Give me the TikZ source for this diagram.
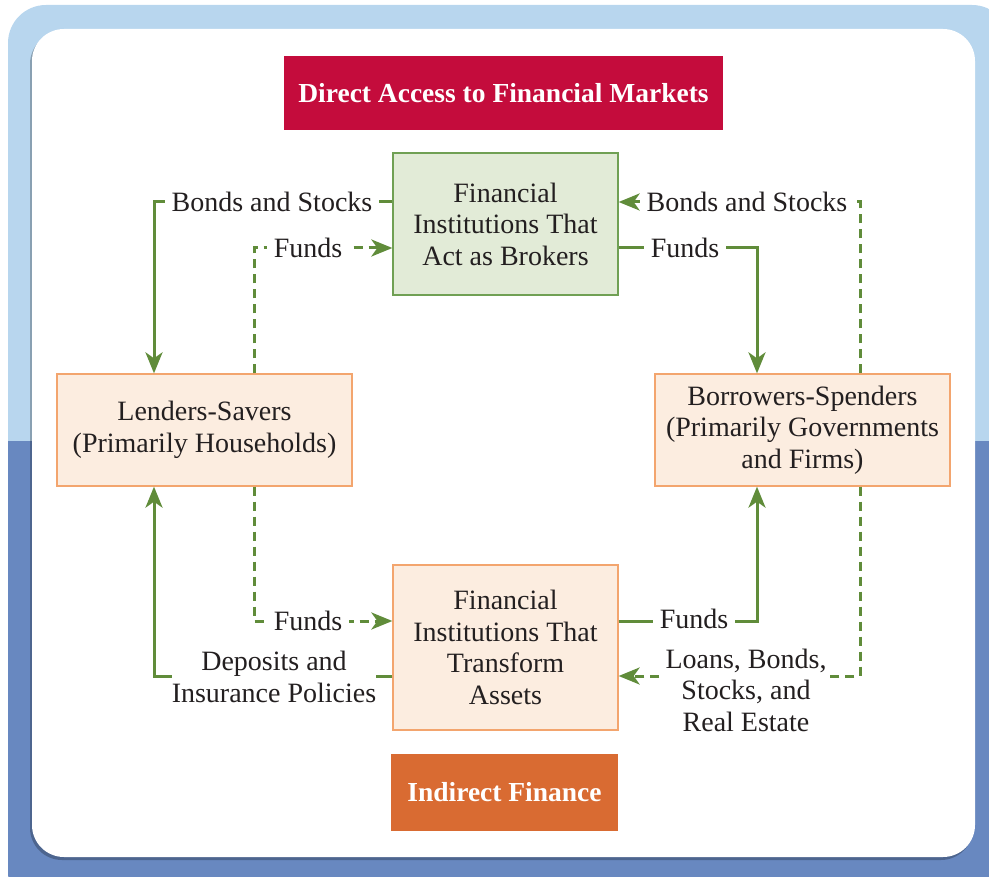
\documentclass[tikz,border=0pt]{standalone}
\usepackage{fontspec}
\setmainfont{Liberation Serif}
\usetikzlibrary{arrows.meta,shadows}
\definecolor{lightbg}{RGB}{184,214,238}
\definecolor{darkbg}{RGB}{104,136,192}
\definecolor{arrowgreen}{RGB}{96,140,58}
\definecolor{brokerfill}{RGB}{226,235,215}
\definecolor{brokerdraw}{RGB}{112,160,84}
\definecolor{peachfill}{RGB}{252,237,224}
\definecolor{peachdraw}{RGB}{243,165,110}
\definecolor{titlered}{RGB}{196,12,60}
\definecolor{titleorange}{RGB}{217,107,50}
\definecolor{textgray}{RGB}{35,31,32}
\tikzset{
  txt/.style={font=\fontsize{28}{31.5}\selectfont, text=textgray, align=center},
  brokerbox/.style={txt, draw=brokerdraw, fill=brokerfill, line width=1.3pt, minimum width=225pt, minimum height=142pt, inner sep=0pt},
  peachbox/.style={txt, draw=peachdraw, fill=peachfill, line width=1.3pt, inner sep=0pt},
  banner/.style={font=\fontsize{27.5}{31.5}\selectfont\bfseries, text=white, inner sep=0pt},
  solidarrow/.style={draw=arrowgreen, line width=3pt, -{Stealth[length=21pt,width=17pt,inset=6pt]}},
  dasharrow/.style={solidarrow, dash pattern=on 9pt off 6pt},
  lbl/.style={txt, fill=white, inner xsep=7pt, inner ysep=2pt},
}
\begin{document}
\begin{tikzpicture}[x=1pt,y=-1pt]
\useasboundingbox (0,0) rectangle (989,877);
% background
\begin{scope}
  \clip (0,0) rectangle (989,877);
  \begin{scope}
    \clip[rounded corners=38pt] (8,5) rectangle (1010,910);
    \fill[lightbg] (0,0) rectangle (1010,441);
    \fill[darkbg] (0,441) rectangle (1010,910);
  \end{scope}
  \fill[rounded corners=32pt, white, drop shadow={shadow xshift=-2pt, shadow yshift=-3pt, opacity=0.25, fill=black}] (32,29) rectangle (975,857);
\end{scope}
% nodes
\node[banner, fill=titlered, minimum width=439pt, minimum height=74pt] (title) at (503.5,93) {Direct Access to Financial Markets};
\node[banner, fill=titleorange, minimum width=227pt, minimum height=77pt] (indirect) at (504.5,792.5) {Indirect Finance};
\node[brokerbox] (broker) at (505.5,224) {Financial\\Institutions That\\Act as Brokers};
\node[peachbox, minimum width=295pt, minimum height=112pt] (lenders) at (204.5,430) {Lenders-Savers\\(Primarily Households)};
\node[peachbox, minimum width=295pt, minimum height=112pt] (borrowers) at (802.5,430) {Borrowers-Spenders\\(Primarily Governments\\and Firms)};
\node[peachbox, minimum width=225pt, minimum height=165pt] (transform) at (505.5,647.5) {Financial\\Institutions That\\Transform\\Assets};
% connectors
\draw[solidarrow] ([yshift=22pt]broker.west) -| ([xshift=-50.5pt]lenders.north);
\draw[dasharrow] ([xshift=49.5pt]lenders.north) |- ([yshift=-24pt]broker.west);
\draw[solidarrow] ([yshift=-24pt]broker.east) -| ([xshift=-45.5pt]borrowers.north);
\draw[dasharrow] ([xshift=57.5pt]borrowers.north) |- ([yshift=22pt]broker.east);
\draw[dasharrow] ([xshift=49.5pt]lenders.south) |- ([yshift=26.5pt]transform.west);
\draw[solidarrow] ([yshift=-28.5pt]transform.west) -| ([xshift=-50.5pt]lenders.south);
\draw[solidarrow] ([yshift=26.5pt]transform.east) -| ([xshift=-45.5pt]borrowers.south);
\draw[dasharrow] ([xshift=57.5pt]borrowers.south) |- ([yshift=-28.5pt]transform.east);
% labels
\node[lbl] (l1) at (272,202) {Bonds and Stocks};
\node[lbl] (l2) at (308,248) {Funds};
\node[lbl] (l3) at (685,248) {Funds};
\node[lbl] (l4) at (747,202) {Bonds and Stocks};
\node[lbl] (l5) at (308,621) {Funds};
\node[lbl, inner xsep=0pt] (l6) at (274,677) {Deposits and\\Insurance Policies};
\node[lbl] (l7) at (694,619) {Funds};
\node[lbl, inner xsep=3pt] (l8) at (746,690) {Loans, Bonds,\\Stocks, and\\Real Estate};
\end{tikzpicture}
\end{document}
